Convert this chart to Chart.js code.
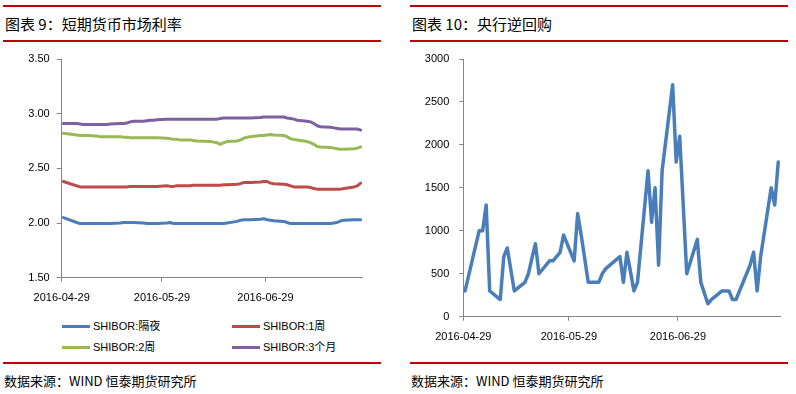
<!DOCTYPE html>
<html>
<head>
<meta charset="utf-8">
<script src="https://cdn.jsdelivr.net/npm/chart.js@4.4.1/dist/chart.umd.min.js"></script>
<style>
  html, body { margin: 0; padding: 0; background: #fff; }
  body { width: 796px; height: 394px; position: relative; overflow: hidden; }
  .rule { position: absolute; height: 2px; background: #c00000; }
  .title { position: absolute; font-family: "Noto Sans CJK SC", sans-serif; font-size: 15px; line-height: 18px; color: #000; white-space: nowrap; }
  .source { position: absolute; font-family: "Noto Sans CJK SC", sans-serif; font-size: 13px; line-height: 16px; color: #000; white-space: nowrap; }
  .box { position: absolute; }
  .lg-line { position: absolute; height: 3px; }
  .lg-text { position: absolute; font-family: "Liberation Sans", "Noto Sans CJK SC", sans-serif; font-size: 11px; line-height: 14px; color: #000; white-space: nowrap; }
</style>
</head>
<body>
<div class="rule" style="left:3px; top:5px; width:378px;"></div>
<div class="title" style="left:5px; top:15px;">图表 9：短期货币市场利率</div>
<div class="rule" style="left:3px; top:40px; width:378px;"></div>
<div class="box" style="left:0px; top:50px; width:380px; height:265px;"><canvas id="c1" width="380" height="265"></canvas></div>
<div id="legend1"></div>
<div class="rule" style="left:3px; top:362px; width:378px;"></div>
<div class="source" style="left:4px; top:373px;">数据来源：WIND 恒泰期货研究所</div>

<div class="rule" style="left:410px; top:5px; width:378px;"></div>
<div class="title" style="left:412px; top:15px;">图表 10：央行逆回购</div>
<div class="rule" style="left:410px; top:40px; width:378px;"></div>
<div class="box" style="left:400px; top:50px; width:396px; height:300px;"><canvas id="c2" width="396" height="300"></canvas></div>
<div class="rule" style="left:410px; top:362px; width:378px;"></div>
<div class="source" style="left:411px; top:373px;">数据来源：WIND 恒泰期货研究所</div>

<script>
// ---- data ----
const dates = [
  '2016-04-29','2016-05-03','2016-05-04','2016-05-05','2016-05-06',
  '2016-05-09','2016-05-10','2016-05-11','2016-05-12','2016-05-13',
  '2016-05-16','2016-05-17','2016-05-18','2016-05-19','2016-05-20',
  '2016-05-23','2016-05-24','2016-05-25','2016-05-26','2016-05-27',
  '2016-05-30','2016-05-31','2016-06-01','2016-06-02','2016-06-03',
  '2016-06-06','2016-06-07','2016-06-08','2016-06-12',
  '2016-06-13','2016-06-14','2016-06-15','2016-06-16','2016-06-17',
  '2016-06-20','2016-06-21','2016-06-22','2016-06-23','2016-06-24',
  '2016-06-27','2016-06-28','2016-06-29','2016-06-30','2016-07-01',
  '2016-07-04','2016-07-05','2016-07-06','2016-07-07','2016-07-08',
  '2016-07-11','2016-07-12','2016-07-13','2016-07-14','2016-07-15',
  '2016-07-18','2016-07-19','2016-07-20','2016-07-21','2016-07-22',
  '2016-07-25','2016-07-26','2016-07-27'
];
const xTickLabels = ['2016-04-29','2016-05-29','2016-06-29'];

const seriesNames = ['SHIBOR:隔夜','SHIBOR:1周','SHIBOR:2周','SHIBOR:3个月'];

const shiborON = [
  2.05,2.005,1.995,1.995,1.995,
  1.995,1.995,1.995,1.995,1.995,
  2.00,2.005,2.005,2.005,2.005,
  2.00,1.995,1.995,1.995,1.995,
  2.00,2.005,1.995,1.995,1.995,
  1.995,1.995,1.995,1.995,
  1.995,1.995,1.995,1.995,2.00,
  2.015,2.025,2.03,2.03,2.03,
  2.035,2.04,2.03,2.025,2.02,
  2.015,2.005,1.995,1.995,1.995,
  1.995,1.995,1.995,1.995,1.995,
  1.995,2.00,2.005,2.02,2.025,
  2.03,2.03,2.03
];
const shibor1W = [
  2.38,2.34,2.33,2.33,2.33,
  2.33,2.33,2.33,2.33,2.33,
  2.33,2.33,2.33,2.335,2.335,
  2.335,2.335,2.335,2.335,2.335,
  2.34,2.335,2.335,2.34,2.34,
  2.34,2.345,2.345,2.345,
  2.345,2.345,2.345,2.35,2.35,
  2.355,2.36,2.37,2.37,2.37,
  2.375,2.38,2.38,2.365,2.36,
  2.355,2.35,2.34,2.33,2.33,
  2.33,2.325,2.315,2.31,2.31,
  2.31,2.31,2.31,2.31,2.315,
  2.33,2.34,2.365
];
const shibor2W = [
  2.82,2.805,2.80,2.80,2.80,
  2.795,2.79,2.79,2.79,2.79,
  2.79,2.785,2.785,2.78,2.78,
  2.78,2.78,2.78,2.78,2.78,
  2.775,2.77,2.765,2.765,2.76,
  2.76,2.755,2.75,2.745,
  2.74,2.735,2.72,2.735,2.745,
  2.75,2.76,2.775,2.785,2.79,
  2.80,2.80,2.805,2.81,2.805,
  2.80,2.79,2.77,2.765,2.76,
  2.745,2.735,2.72,2.70,2.695,
  2.69,2.685,2.68,2.675,2.675,
  2.68,2.685,2.695
];
const shibor3M = [
  2.91,2.91,2.905,2.90,2.90,
  2.90,2.90,2.90,2.90,2.905,
  2.91,2.91,2.915,2.925,2.93,
  2.93,2.935,2.94,2.94,2.945,
  2.95,2.95,2.95,2.95,2.95,
  2.95,2.95,2.95,2.95,
  2.95,2.95,2.955,2.96,2.96,
  2.96,2.96,2.96,2.96,2.96,
  2.965,2.97,2.97,2.97,2.97,
  2.97,2.96,2.955,2.95,2.94,
  2.93,2.925,2.91,2.89,2.88,
  2.875,2.87,2.865,2.86,2.86,
  2.86,2.86,2.85
];
const repo = [
  300,1000,1000,1300,300,
  200,700,800,550,300,
  400,500,680,850,500,
  650,650,700,750,950,
  650,1200,950,680,400,
  400,500,560,700,
  400,750,525,300,400,
  1700,1100,1500,600,1700,
  2700,1800,2100,1300,500,
  900,400,275,150,200,
  300,300,300,200,200,
  500,600,750,300,700,
  1500,1300,1800
];
const colors = ['#4A7EBB','#BE4B48','#98B954','#7D60A0'];

// ---- helpers ----
const base = Date.parse('2016-04-29T00:00:00Z');
function dayIdx(s) { return Math.round((Date.parse(s + 'T00:00:00Z') - base) / 86400000); }
function pts(arr) { return dates.map((d, i) => ({ x: dayIdx(d), y: arr[i] })); }
const tickPos = xTickLabels.map(l => dayIdx(l) - 0.5);

const tickFont = { family: 'Liberation Sans', size: 11 };
function xScale(height) {
  return {
    type: 'linear', min: -0.5, max: 89.5,
    afterBuildTicks: (s) => { s.ticks = tickPos.map(v => ({ value: v })); },
    afterFit: (s) => { s.height = height; s.paddingLeft = 0; s.paddingRight = 0; },
    ticks: {
      autoSkip: false, maxRotation: 0, color: '#000', font: tickFont, padding: 10,
      callback: (v) => { const i = tickPos.indexOf(v); return i >= 0 ? xTickLabels[i] : ''; }
    },
    grid: { display: true, drawOnChartArea: false, drawTicks: true, tickLength: 4, color: '#868686' },
    border: { display: true, color: '#868686', width: 1 }
  };
}
function yScale(width, min, max, step, fmt, tl, pad) {
  return {
    min: min, max: max,
    afterFit: (s) => { s.width = width; s.paddingTop = 0; s.paddingBottom = 0; },
    ticks: { stepSize: step, color: '#000', font: tickFont, padding: pad, callback: fmt },
    grid: { display: true, drawOnChartArea: false, drawTicks: true, tickLength: tl, color: '#868686' },
    border: { display: true, color: '#868686', width: 1 }
  };
}

const common = {
  responsive: false, animation: false, devicePixelRatio: 1,
  plugins: { legend: { display: false }, tooltip: { enabled: false } },
  elements: { point: { radius: 0 }, line: { tension: 0, borderCapStyle: 'round', borderJoinStyle: 'round' } }
};

const seriesArrays = [shiborON, shibor1W, shibor2W, shibor3M];
const chart1 = new Chart(document.getElementById('c1'), {
  type: 'line',
  data: {
    datasets: seriesArrays.map((a, i) => ({
      label: seriesNames[i], data: pts(a), borderColor: colors[i], backgroundColor: colors[i], borderWidth: 3, fill: false
    }))
  },
  options: Object.assign({}, common, {
    layout: { padding: { left: 0, top: 9, right: 17.7, bottom: 0 } },
    scales: {
      x: xScale(37.3),
      y: yScale(61.7, 1.5, 3.5, 0.5, (v) => v.toFixed(2), 5, 7)
    }
  })
});

const chart2 = new Chart(document.getElementById('c2'), {
  type: 'line',
  data: {
    datasets: [{ label: '央行逆回购', data: pts(repo), borderColor: '#4A7EBB', borderWidth: 3.5, fill: false }]
  },
  options: Object.assign({}, common, {
    layout: { padding: { left: 0, top: 9, right: 16, bottom: 0 } },
    scales: {
      x: xScale(33.3),
      y: yScale(63.3, 0, 3000, 500, (v) => String(v), 4, 10)
    }
  })
});

// ---- HTML legend built from chart1 datasets ----
const lg = document.getElementById('legend1');
const legendPos = [[62, 326], [232, 326], [62, 347], [232, 347]];
chart1.data.datasets.forEach((ds, i) => {
  const [lx, ly] = legendPos[i];
  const line = document.createElement('div');
  line.className = 'lg-line';
  line.style.left = lx + 'px'; line.style.top = (ly - 1.5) + 'px'; line.style.width = '28px';
  line.style.background = ds.borderColor;
  lg.appendChild(line);
  const t = document.createElement('div');
  t.className = 'lg-text';
  t.style.left = (lx + 31) + 'px'; t.style.top = (ly - 7) + 'px';
  t.textContent = ds.label;
  lg.appendChild(t);
});
</script>
</body>
</html>
